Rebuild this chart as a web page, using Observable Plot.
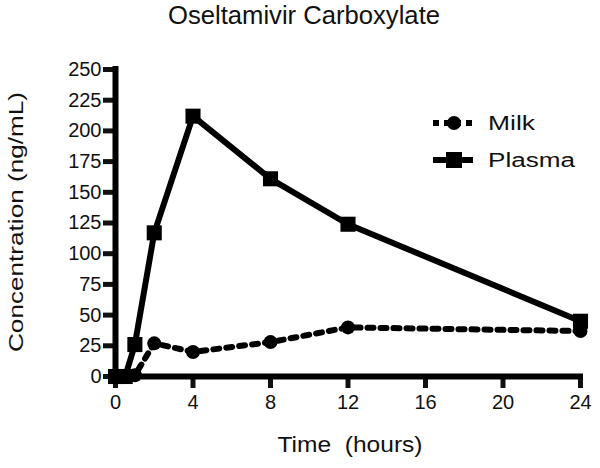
<!DOCTYPE html>
<html>
<head>
<meta charset="utf-8">
<script src="https://cdn.jsdelivr.net/npm/d3@7"></script>
<script src="https://cdn.jsdelivr.net/npm/@observablehq/plot@0.6"></script>
<style>
  body { margin: 0; background: #fff; }
  #wrap { position: relative; width: 600px; height: 468px; font-family: "Liberation Sans", Arial, sans-serif; }
  #legend { position: absolute; left: 0; top: 0; pointer-events: none; }
</style>
</head>
<body>
<div id="wrap"></div>
<script>
// ---- data ----
const hours = [0, 0.5, 1, 2, 4, 8, 12, 24];
const milk = [0, 0, 1, 27, 20, 28, 40, 37];
const plasma = [0, 0, 26, 117, 212, 161, 124, 45];
const seriesNames = ["Milk", "Plasma"];
const xTicks = [0, 4, 8, 12, 16, 20, 24];
const yTicks = [0, 25, 50, 75, 100, 125, 150, 175, 200, 225, 250];
const titleText = "Oseltamivir Carboxylate";
const xLabel = "Time\u00a0\u00a0(hours)";
const yLabel = "Concentration (ng/mL)";

const milkData = hours.map((t, i) => ({t, v: milk[i]}));
const plasmaData = hours.map((t, i) => ({t, v: plasma[i]}));

const wrap = document.getElementById("wrap");
const FONT = "Liberation Sans, Arial, sans-serif";

// ---- title (above the plot svg) ----
const titleSvg = d3.select(wrap).append("svg")
  .attr("width", 600).attr("height", 36).style("display", "block");
titleSvg.append("text")
  .attr("x", 304).attr("y", 24)
  .attr("text-anchor", "middle")
  .attr("font-family", FONT).attr("font-size", 25).attr("fill", "#111")
  .attr("textLength", 272).attr("lengthAdjust", "spacingAndGlyphs")
  .text(titleText);

// ---- plot ----
const chart = Plot.plot({
  width: 600,
  height: 432,
  marginTop: 33,
  marginBottom: 92,
  marginLeft: 115,
  marginRight: 20,
  style: {fontFamily: FONT, fontSize: "19px", color: "#111", background: "#fff"},
  x: {domain: [0, 24]},
  y: {domain: [0, 250]},
  marks: [
    Plot.axisX({ticks: xTicks, tickSize: 12, tickPadding: 6, strokeWidth: 5, fontSize: 20, label: null, color: "#111"}),
    Plot.axisY({ticks: yTicks, tickSize: 12, tickPadding: 2, strokeWidth: 5, fontSize: 20, label: null, color: "#111"}),
    Plot.line(milkData, {x: "t", y: "v", stroke: "#000", strokeWidth: 6, strokeDasharray: "6,7"}),
    Plot.line(plasmaData, {x: "t", y: "v", stroke: "#000", strokeWidth: 6}),
    Plot.dot(milkData, {x: "t", y: "v", symbol: "circle", r: 7, fill: "#000", stroke: null}),
    Plot.dot(plasmaData, {x: "t", y: "v", symbol: "square", r: 8.5, fill: "#000", stroke: null}),
    Plot.ruleY([0], {stroke: "#000", strokeWidth: 6, strokeLinecap: "square"}),
    Plot.ruleX([0], {stroke: "#000", strokeWidth: 6, strokeLinecap: "square"})
  ]
});
chart.style.display = "block";
wrap.appendChild(chart);

// axis titles
const svg = d3.select(chart);
svg.append("text")
  .attr("x", 350).attr("y", 416)
  .attr("text-anchor", "middle")
  .attr("font-family", FONT).attr("font-size", 22).attr("fill", "#111")
  .attr("textLength", 145).attr("lengthAdjust", "spacingAndGlyphs")
  .text(xLabel);
svg.append("text")
  .attr("transform", "translate(23,186) rotate(-90)")
  .attr("text-anchor", "middle")
  .attr("font-family", FONT).attr("font-size", 20).attr("fill", "#111")
  .attr("textLength", 260).attr("lengthAdjust", "spacingAndGlyphs")
  .text(yLabel);

// ---- legend overlay ----
const leg = d3.select(wrap).append("svg")
  .attr("id", "legend").attr("width", 600).attr("height", 468);
const rows = leg.selectAll("g").data(seriesNames).join("g")
  .attr("transform", (d, i) => `translate(0,${123 + i * 37})`);
rows.append("line")
  .attr("x1", 433).attr("x2", 473).attr("y1", 0).attr("y2", 0)
  .attr("stroke", "#000").attr("stroke-width", 6)
  .attr("stroke-dasharray", d => d === "Milk" ? "6,5" : null);
rows.filter(d => d === "Milk").append("circle")
  .attr("cx", 454).attr("cy", 0).attr("r", 7).attr("fill", "#000");
rows.filter(d => d === "Plasma").append("rect")
  .attr("x", 446).attr("y", -8).attr("width", 16).attr("height", 16).attr("fill", "#000");
rows.append("text")
  .attr("x", 488).attr("y", 7)
  .attr("font-family", FONT).attr("font-size", 20).attr("fill", "#111")
  .attr("textLength", d => d === "Milk" ? 47 : 87).attr("lengthAdjust", "spacingAndGlyphs")
  .text(d => d);
</script>
</body>
</html>
